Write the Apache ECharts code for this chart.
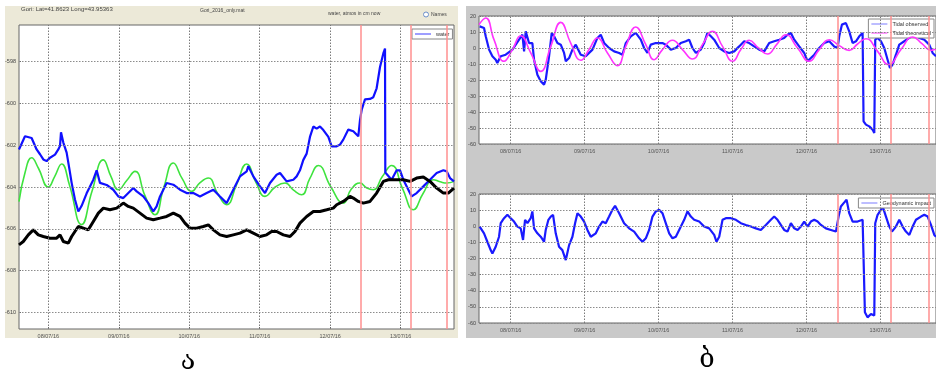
<!DOCTYPE html>
<html><head><meta charset="utf-8">
<script src="https://cdn.jsdelivr.net/npm/echarts@6/dist/echarts.min.js"></script>
<style>html,body{margin:0;padding:0;background:#fff}#c{width:936px;height:379px}</style>
</head><body><div id="c"></div>
<script>
const dayTicks=[8,9,10,11,12,13];
const dayLabels=['08/07/16','09/07/16','10/07/16','11/07/16','12/07/16','13/07/16'];
const leftYTicks=[-610,-608,-606,-604,-602,-600,-598];
const rightYTicks=[-60,-50,-40,-30,-20,-10,0,10,20];
const eventDays=[12.43,13.14,13.65];

const waterA=[[7.584,-602.2],[7.669,-601.57],[7.693,-601.5],[7.763,-601.65],[7.787,-601.73],[7.834,-602.2],[7.882,-602.43],[7.929,-602.68],[7.976,-602.76],[8.024,-602.6],[8.095,-602.45],[8.142,-602.2],[8.166,-602.03],[8.180,-601.38],[8.213,-601.87],[8.260,-602.35],[8.307,-603.3],[8.331,-603.8],[8.378,-604.6],[8.426,-605.17],[8.473,-604.9],[8.544,-604.3],[8.639,-603.65],[8.686,-603.2],[8.733,-603.8],[8.828,-603.9],[8.922,-604.13],[8.993,-604.45],[9.064,-604.53],[9.135,-604.29],[9.206,-604.05],[9.254,-604.21],[9.348,-604.45],[9.419,-604.77],[9.490,-605.17],[9.537,-604.93],[9.585,-604.45],[9.679,-603.81],[9.774,-603.89],[9.869,-604.13],[9.963,-604.29],[10.058,-604.29],[10.152,-604.45],[10.247,-604.29],[10.342,-604.13],[10.436,-604.45],[10.531,-604.77],[10.625,-604.13],[10.720,-603.49],[10.815,-603.25],[10.838,-603.0],[10.909,-603.49],[11.004,-603.97],[11.075,-604.29],[11.146,-603.81],[11.240,-603.41],[11.288,-603.33],[11.382,-603.73],[11.477,-603.65],[11.524,-603.49],[11.571,-603.2],[11.619,-602.7],[11.666,-602.4],[11.713,-601.6],[11.761,-601.1],[11.808,-601.2],[11.855,-601.1],[11.903,-601.27],[11.974,-601.6],[12.021,-602.05],[12.092,-602.05],[12.139,-601.97],[12.186,-601.73],[12.257,-601.25],[12.328,-601.33],[12.399,-601.57],[12.423,-600.8],[12.447,-600.3],[12.494,-599.8],[12.565,-599.78],[12.612,-599.7],[12.659,-599.27],[12.707,-598.25],[12.754,-597.6],[12.778,-597.37],[12.782,-603.3],[12.801,-603.3],[12.872,-603.65],[12.943,-603.2],[12.991,-603.2],[13.038,-603.65],[13.109,-604.13],[13.156,-604.45],[13.227,-604.29],[13.322,-603.97],[13.416,-603.65],[13.511,-603.33],[13.606,-603.2],[13.653,-603.25],[13.700,-603.57],[13.757,-603.73]];

const tidalA=[[7.584,-604.7],[7.67,-603.3],[7.763,-602.6],[7.86,-603.1],[8.0,-604.0],[8.09,-603.5],[8.189,-602.9],[8.30,-603.9],[8.473,-605.8],[8.62,-604.2],[8.781,-602.7],[8.89,-603.5],[8.993,-604.13],[9.11,-603.7],[9.230,-603.25],[9.37,-604.4],[9.514,-605.33],[9.64,-604.0],[9.774,-602.85],[9.90,-603.6],[10.034,-604.21],[10.15,-603.8],[10.271,-603.57],[10.40,-604.3],[10.531,-604.85],[10.67,-603.9],[10.815,-602.9],[10.95,-603.8],[11.075,-604.45],[11.22,-604.0],[11.359,-603.81],[11.48,-604.15],[11.595,-604.37],[11.71,-603.6],[11.832,-602.97],[12.01,-604.0],[12.186,-604.77],[12.30,-604.1],[12.423,-603.81],[12.52,-604.05],[12.612,-604.13],[12.74,-603.5],[12.872,-602.97],[13.03,-604.1],[13.180,-605.09],[13.32,-604.3],[13.464,-603.65],[13.56,-603.75],[13.653,-603.81],[13.757,-603.73]];

const atmosA=[[7.584,-606.77],[7.645,-606.61],[7.716,-606.29],[7.787,-606.05],[7.858,-606.29],[7.929,-606.37],[8.024,-606.45],[8.118,-606.45],[8.166,-606.29],[8.213,-606.61],[8.284,-606.69],[8.331,-606.37],[8.378,-606.13],[8.426,-605.89],[8.497,-605.97],[8.568,-606.05],[8.639,-605.65],[8.710,-605.25],[8.781,-605.01],[8.875,-605.09],[8.970,-605.01],[9.064,-604.77],[9.135,-604.93],[9.206,-605.01],[9.301,-605.25],[9.395,-605.49],[9.490,-605.57],[9.585,-605.49],[9.679,-605.41],[9.774,-605.25],[9.869,-605.41],[9.939,-605.73],[10.010,-605.97],[10.105,-605.97],[10.200,-605.89],[10.271,-605.81],[10.342,-606.05],[10.436,-606.29],[10.531,-606.37],[10.625,-606.29],[10.720,-606.21],[10.815,-606.05],[10.909,-606.21],[11.004,-606.37],[11.098,-606.29],[11.169,-606.13],[11.240,-606.13],[11.335,-606.29],[11.430,-606.37],[11.500,-606.13],[11.571,-605.73],[11.666,-605.41],[11.761,-605.17],[11.855,-605.17],[11.950,-605.09],[12.044,-605.01],[12.092,-604.85],[12.186,-604.69],[12.281,-604.45],[12.328,-604.53],[12.399,-604.69],[12.470,-604.77],[12.565,-604.69],[12.659,-604.29],[12.754,-603.73],[12.825,-603.65],[12.943,-603.65],[13.038,-603.65],[13.135,-603.73],[13.227,-603.57],[13.322,-603.52],[13.416,-603.73],[13.511,-604.05],[13.606,-604.29],[13.676,-604.29],[13.757,-604.05]];

const tidalObs=[[7.580,13.5],[7.639,12.5],[7.662,7.3],[7.707,-1.0],[7.752,-5.2],[7.797,-7.3],[7.819,-9.4],[7.865,-5.2],[7.932,-4.2],[8.023,-1.0],[8.113,5.2],[8.158,8.3],[8.181,-2.1],[8.203,10.4],[8.248,3.1],[8.293,3.1],[8.316,-7.3],[8.361,-16.7],[8.406,-20.8],[8.451,-22.9],[8.474,-19.8],[8.519,-5.2],[8.555,9.4],[8.587,7.3],[8.632,3.1],[8.677,2.1],[8.722,-3.1],[8.745,-8.3],[8.790,-6.3],[8.835,-1.0],[8.880,2.1],[8.948,-4.2],[9.015,-5.2],[9.106,-1.0],[9.173,6.3],[9.218,8.3],[9.264,3.1],[9.331,0],[9.399,-2.1],[9.467,-3.1],[9.512,-4.2],[9.557,3.1],[9.625,7.3],[9.692,9.4],[9.760,5.2],[9.805,0],[9.850,-3.1],[9.895,2.1],[9.963,3.1],[10.053,3.1],[10.098,2.1],[10.166,-1.0],[10.234,0],[10.301,3.1],[10.369,4.2],[10.414,5.2],[10.459,0],[10.505,-3.1],[10.572,-1.0],[10.617,3.1],[10.662,9.4],[10.708,7.3],[10.753,5.2],[10.821,0],[10.888,-2.1],[10.956,-3.1],[11.024,-2.1],[11.091,1.0],[11.159,4.2],[11.227,3.1],[11.294,1.0],[11.362,-1.0],[11.430,-2.1],[11.497,3.1],[11.565,4.2],[11.633,5.2],[11.700,6.3],[11.745,8.3],[11.791,9.4],[11.836,5.2],[11.903,1.0],[11.971,-3.1],[12.016,-8.3],[12.061,-6.3],[12.107,-4.2],[12.174,0],[12.242,3.1],[12.310,4.2],[12.377,1.0],[12.422,0],[12.445,7.3],[12.481,14.6],[12.535,15.6],[12.580,10.4],[12.626,3.1],[12.671,4.2],[12.716,7.3],[12.761,9.4],[12.774,-45.8],[12.806,-47.9],[12.851,-49],[12.896,-51],[12.919,-53.1],[12.932,5.2],[12.964,6.3],[13.009,4.2],[13.054,0],[13.099,-7.3],[13.131,-12.5],[13.167,-10.4],[13.212,-4.2],[13.257,2.1],[13.325,4.2],[13.393,6.3],[13.460,8.3],[13.528,6.3],[13.596,5.2],[13.663,2.1],[13.708,-3.1],[13.754,-5.2]];

const tidalTheo=[[7.571,14.6],[7.662,18.75],[7.774,5.2],[7.910,-8.3],[8.023,-1.0],[8.135,7.7],[8.271,-3.1],[8.406,-14.6],[8.542,1.0],[8.677,16.0],[8.812,3.1],[8.948,-7.7],[9.060,-1.0],[9.173,6.25],[9.309,-3.1],[9.444,-11.0],[9.557,1.0],[9.692,13.1],[9.828,2.1],[9.940,-7.3],[10.053,-1.0],[10.189,4.8],[10.324,-1.0],[10.459,-6.9],[10.594,2.1],[10.730,10.4],[10.866,1.0],[11.002,-8.3],[11.114,-1.0],[11.227,4.8],[11.353,0],[11.475,-3.75],[11.597,2.1],[11.723,8.3],[11.881,0],[12.039,-8.3],[12.174,-1.0],[12.310,5.2],[12.445,1.5],[12.580,-1.5],[12.693,2.5],[12.806,5.8],[12.964,-2.1],[13.113,-10.4],[13.280,-1.0],[13.438,6.9],[13.564,2.7],[13.686,-1.5],[13.754,-0.6]];

const geodyn=[[7.580,-0.2],[7.639,-4.4],[7.684,-9.6],[7.729,-14.8],[7.752,-16.9],[7.797,-12.7],[7.842,-6.5],[7.865,1.9],[7.910,5.0],[7.955,7.1],[8.0,5.0],[8.045,2.9],[8.090,-0.2],[8.135,-1.3],[8.167,-8.5],[8.194,4.0],[8.226,1.9],[8.271,5.0],[8.293,9.2],[8.316,-1.3],[8.361,-4.4],[8.406,-6.5],[8.451,-9.6],[8.474,-2.3],[8.510,4.0],[8.542,6.0],[8.573,7.1],[8.609,-4.4],[8.654,-12.7],[8.699,-14.8],[8.745,-21.0],[8.790,-11.7],[8.835,-6.5],[8.871,1.9],[8.903,8.1],[8.948,6.0],[8.993,2.9],[9.038,-2.3],[9.083,-6.5],[9.106,-7.5],[9.151,-4.4],[9.196,-0.2],[9.241,2.9],[9.286,1.9],[9.331,6.0],[9.376,10.2],[9.412,12.7],[9.467,8.1],[9.534,1.9],[9.602,-1.3],[9.670,-3.3],[9.737,-7.5],[9.783,-9.6],[9.828,-7.5],[9.873,-2.3],[9.918,6.0],[9.963,9.2],[10.008,10.2],[10.053,8.1],[10.098,1.9],[10.144,-4.4],[10.189,-7.5],[10.234,-6.5],[10.279,-2.3],[10.347,4.0],[10.392,9.2],[10.437,6.0],[10.482,4.0],[10.550,2.9],[10.617,-0.2],[10.685,-1.3],[10.753,-5.4],[10.784,-9.6],[10.821,-6.5],[10.843,-1.3],[10.866,4.0],[10.911,5.0],[10.979,5.0],[11.046,4.0],[11.114,1.9],[11.181,0.8],[11.249,-0.2],[11.317,-1.3],[11.384,-2.3],[11.452,0.8],[11.520,4.0],[11.565,6.0],[11.610,4.0],[11.655,0.8],[11.700,-2.3],[11.745,-3.3],[11.791,1.9],[11.836,-1.3],[11.881,-2.3],[11.926,-0.2],[11.971,2.9],[12.016,-0.2],[12.061,2.9],[12.107,4.0],[12.152,2.9],[12.197,0.8],[12.264,-1.3],[12.332,-2.3],[12.400,-3.3],[12.422,-4.4],[12.436,6.0],[12.467,12.3],[12.513,14.8],[12.544,16.5],[12.580,8.1],[12.626,2.9],[12.693,2.9],[12.761,4.0],[12.783,2.9],[12.792,-53.3],[12.828,-56.5],[12.874,-54.4],[12.919,-55.4],[12.932,1.9],[12.964,7.1],[13.009,10.2],[13.032,12.3],[13.077,6.0],[13.122,-0.2],[13.158,-3.3],[13.212,-0.2],[13.257,4.0],[13.302,-0.2],[13.347,-3.3],[13.393,-5.4],[13.438,-0.2],[13.483,4.0],[13.551,6.0],[13.596,7.1],[13.641,6.0],[13.686,0.8],[13.731,-5.4],[13.754,-6.5]];

const FONT='"Liberation Sans", Arial, sans-serif';
const chart=echarts.init(document.getElementById('c'),null,{renderer:'canvas'});

function xAxisCfg(gi,min,max){
  return {type:'value',gridIndex:gi,min:min,max:max,
    axisLine:{show:false},
    axisTick:{show:true,inside:true,length:2,customValues:dayTicks,lineStyle:{color:'#555'}},
    axisLabel:{customValues:dayTicks,fontSize:5.5,color:'#555',fontFamily:FONT,margin:4,
      formatter:v=>{const i=dayTicks.indexOf(Math.round(v));return i>=0?dayLabels[i]:'';}},
    splitLine:{show:false}};
}
function yAxisCfg(gi,min,max,ticks){
  return {type:'value',gridIndex:gi,min:min,max:max,
    axisLine:{show:false},
    axisTick:{show:true,inside:true,length:2,customValues:ticks,lineStyle:{color:'#555'}},
    axisLabel:{customValues:ticks,fontSize:5.5,color:'#444',fontFamily:FONT,margin:3},
    splitLine:{show:false}};
}
function gridSeries(gi,yTicks){
  return {name:'grid'+gi,type:'line',xAxisIndex:gi,yAxisIndex:gi,data:[],symbol:'none',z:1,silent:true,
    markLine:{silent:true,symbol:['none','none'],label:{show:false},animation:false,emphasis:{disabled:true},
      lineStyle:{color:'#8c8c8c',width:1,type:[1.5,1.5]},
      data:dayTicks.map(d=>({xAxis:d,lineStyle:{color:'#7a7a7a'}})).concat(yTicks.map(v=>({yAxis:v})))}};
}
const redLines={silent:true,symbol:['none','none'],label:{show:false},animation:false,
  lineStyle:{color:'#ff8f8f',width:1.5,type:'solid'},emphasis:{disabled:true},
  data:eventDays.map(d=>({xAxis:d}))};
const legendBase={orient:'vertical',backgroundColor:'#fff',borderColor:'#888',borderWidth:1,
  padding:[2,3,2,3],icon:'rect',itemWidth:16,itemHeight:1,itemGap:3,align:'left'};

const option={
  animation:false,
  backgroundColor:'#ffffff',
  grid:[
    {left:19,top:25,width:435,height:304,show:true,backgroundColor:'#fff',borderColor:'#666',borderWidth:1,outerBoundsMode:'none'},
    {left:479,top:16,width:457,height:128,show:true,backgroundColor:'#fff',borderColor:'#666',borderWidth:1,outerBoundsMode:'none'},
    {left:479,top:194,width:457,height:129,show:true,backgroundColor:'#fff',borderColor:'#666',borderWidth:1,outerBoundsMode:'none'}
  ],
  xAxis:[xAxisCfg(0,7.584,13.757),xAxisCfg(1,7.571,13.754),xAxisCfg(2,7.571,13.754)],
  yAxis:[yAxisCfg(0,-610.8,-596.24,leftYTicks),yAxisCfg(1,-60,20,rightYTicks),yAxisCfg(2,-60,20,rightYTicks)],
  legend:[
    Object.assign({},legendBase,{data:['water'],left:412,top:29,textStyle:{fontSize:5.5,color:'#333',fontFamily:FONT}}),
    Object.assign({},legendBase,{data:['Tidal observed','Tidal theoretical'],right:2,top:19,textStyle:{fontSize:5.5,color:'#333',fontFamily:FONT}}),
    Object.assign({},legendBase,{data:['Geodynamic impact'],right:2,top:198,textStyle:{fontSize:5.5,color:'#333',fontFamily:FONT}})
  ],
  series:[
    gridSeries(0,leftYTicks),gridSeries(1,rightYTicks),gridSeries(2,rightYTicks),
    {name:'water',type:'line',xAxisIndex:0,yAxisIndex:0,data:waterA,symbol:'none',
      lineStyle:{color:'#1010ff',width:2.2},itemStyle:{color:'#3c3cff'},z:3,markLine:redLines},
    {name:'tidal',type:'line',xAxisIndex:0,yAxisIndex:0,data:tidalA,symbol:'none',smooth:0.5,
      lineStyle:{color:'#3ee33e',width:1.6},itemStyle:{color:'#3ee33e'},z:2},
    {name:'atmos',type:'line',xAxisIndex:0,yAxisIndex:0,data:atmosA,symbol:'none',
      lineStyle:{color:'#000',width:3},itemStyle:{color:'#000'},z:4},
    {name:'Tidal observed',type:'line',xAxisIndex:1,yAxisIndex:1,data:tidalObs,symbol:'none',
      lineStyle:{color:'#1a1aff',width:2.2},itemStyle:{color:'#7a7aff'},z:3,markLine:redLines},
    {name:'Tidal theoretical',type:'line',xAxisIndex:1,yAxisIndex:1,data:tidalTheo,symbol:'none',smooth:0.5,
      lineStyle:{color:'#ff33ff',width:1.6},itemStyle:{color:'#ff33ff'},z:4},
    {name:'Geodynamic impact',type:'line',xAxisIndex:2,yAxisIndex:2,data:geodyn,symbol:'none',
      lineStyle:{color:'#1a1aff',width:2.2},itemStyle:{color:'#7a7aff'},z:3,markLine:redLines}
  ],
  graphic:{elements:[
    {type:'rect',z:-10,shape:{x:5,y:6,width:453,height:332},style:{fill:'#ece9d8'}},
    {type:'rect',z:-10,shape:{x:466,y:6,width:470,height:332},style:{fill:'#c9c9c9'}},
    {type:'text',z:5,style:{text:'Gori: Lat=41.8623 Long=43.95363',x:21,y:6,fontSize:6,fill:'#444',fontFamily:FONT}},
    {type:'text',z:5,style:{text:'Gori_2016_only.mat',x:200,y:8,fontSize:5,fill:'#444',fontFamily:FONT}},
    {type:'text',z:5,style:{text:'water, atmos in cm now',x:328,y:11,fontSize:5,fill:'#444',fontFamily:FONT}},
    {type:'circle',z:5,shape:{cx:426,cy:14.5,r:2.5},style:{fill:'#fff',stroke:'#6b8fc9',lineWidth:1}},
    {type:'text',z:5,style:{text:'Names',x:431,y:12,fontSize:5,fill:'#444',fontFamily:FONT}},
    {type:'text',z:5,style:{text:'ა',x:188,y:362,fontSize:27,fill:'#000',fontFamily:'"DejaVu Serif","DejaVu Sans",serif',align:'center',verticalAlign:'middle'}},
    {type:'text',z:5,style:{text:'ბ',x:707,y:360,fontSize:27,fill:'#000',fontFamily:'"DejaVu Serif","DejaVu Sans",serif',align:'center',verticalAlign:'middle'}}
  ]}
};
chart.setOption(option);
</script></body></html>
